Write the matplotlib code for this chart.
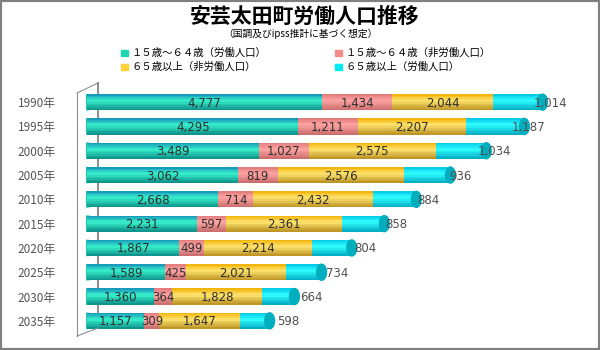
import matplotlib.pyplot as plt
from matplotlib.patches import Ellipse, Rectangle
from matplotlib.lines import Line2D
from matplotlib.colors import to_rgb
import numpy as np

plt.rcParams['font.family'] = ['Noto Sans CJK JP', 'DejaVu Sans']

years = ['1990年', '1995年', '2000年', '2005年', '2010年', '2015年', '2020年', '2025年', '2030年', '2035年']
work_15_64 = [4777, 4295, 3489, 3062, 2668, 2231, 1867, 1589, 1360, 1157]
nonwork_15_64 = [1434, 1211, 1027, 819, 714, 597, 499, 425, 364, 309]
nonwork_65 = [2044, 2207, 2575, 2576, 2432, 2361, 2214, 2021, 1828, 1647]
work_65 = [1014, 1187, 1034, 936, 884, 858, 804, 734, 664, 598]

series_labels = ['１５歳～６４歳（労働人口）', '１５歳～６４歳（非労働人口）',
                 '６５歳以上（非労働人口）', '６５歳以上（労働人口）']
colors = ['#1ed8b4', '#f48c8c', '#ffd23c', '#00eaf6']
# top / middle / bottom tones for the cylinder look
tops = ['#1590b8', '#e07a7a', '#f0b000', '#00c4e6']
mids = ['#38f2cc', '#ffa4a4', '#ffe470', '#30ffff']
bots = ['#0a8c88', '#c86a6a', '#b89020', '#00a8c0']

fig = plt.figure(figsize=(6, 3.5), dpi=100)
W, H = 600, 350
ax = fig.add_axes([86 / W, 1 - 333 / H, 474 / W, 243 / H])

def shade(c1, c2, t):
    a, b = np.array(to_rgb(c1)), np.array(to_rgb(c2))
    return tuple(a + (b - a) * t)

series = [work_15_64, nonwork_15_64, nonwork_65, work_65]
y = np.arange(len(years))
h = 0.66
n = 10
left = np.zeros(len(years))
for i, vals in enumerate(series):
    vals = np.array(vals)
    for k in range(n):
        # k=0 top strip ... k=n-1 bottom strip
        t = (k + 0.5) / n
        if t < 0.4:
            c = shade(tops[i], mids[i], t / 0.4)
        else:
            c = shade(mids[i], bots[i], (t - 0.4) / 0.6)
        yc = y - h / 2 + (k + 0.5) * h / n
        ax.barh(yc, vals, left=left, height=h / n * 1.05, color=c, zorder=2, lw=0)
    for j, v in enumerate(vals):
        cx = left[j] + v / 2
        if i < 3:
            ax.text(cx, y[j] + 0.04, f'{v:,}', ha='center', va='center',
                    fontsize=8.5, color='#303030', zorder=5, family='DejaVu Sans')
        else:
            ax.annotate(f'{v:,}', (cx, y[j] + 0.04), xytext=(24, 0), textcoords='offset points',
                        ha='center', va='center', fontsize=8.5, color='#505050', zorder=5,
                        family='DejaVu Sans')
    left = left + vals

# rounded ends of the cylinders
for j in range(len(years)):
    ax.add_patch(Ellipse((0, y[j]), 300, h * 0.95, color='#22c8b0', zorder=1))
    ax.add_patch(Ellipse((left[j], y[j]), 200, h, color='#00aebe', zorder=4))

ax.set_xlim(-30, 9656 - 30)
ax.set_ylim(9.5, -0.5)
ax.set_yticks(y)
ax.set_yticklabels(years, fontsize=8.5, color='#555555')
ax.tick_params(axis='y', length=0, pad=22)
ax.set_xticks([])
for s in ax.spines.values():
    s.set_visible(False)
ax.patch.set_alpha(0)

# side wall of the 3D frame
gray = '#909090'
def px(xp, yp):
    return xp / W, 1 - yp / H
for (x0, y0), (x1, y1) in [((77, 93), (98, 83)), ((77, 93), (77, 336)),
                           ((77, 336), (98, 328))]:
    a, b = px(x0, y0), px(x1, y1)
    fig.add_artist(Line2D([a[0], b[0]], [a[1], b[1]], color=gray, lw=0.8))
a, b = px(98, 83), px(98, 328)
fig.add_artist(Line2D([a[0], b[0]], [a[1], b[1]], color=gray, lw=1.5, zorder=0))

fig.text(305 / W, 1 - 16 / H, '安芸太田町労働人口推移', ha='center', va='center',
         fontsize=15, fontweight='bold')
fig.text(300 / W, 1 - 34 / H, '（国調及びipss推計に基づく想定）', ha='center', va='center',
         fontsize=7)

# legend
leg_pos = [(121, 53), (335, 53), (121, 67), (335, 67)]
for i, (lx, ly) in enumerate(leg_pos):
    fig.add_artist(Rectangle(px(lx, ly + 3), 7 / W, 6 / H, color=colors[i]))
    fig.text((lx + 10) / W, 1 - ly / H, series_labels[i], ha='left', va='center', fontsize=7.5)

# outer frame
fig.add_artist(Rectangle((0, 0), 1, 1, fill=False, edgecolor='#808080', lw=3,
                         transform=fig.transFigure))

fig.savefig('out.png', dpi=100)
